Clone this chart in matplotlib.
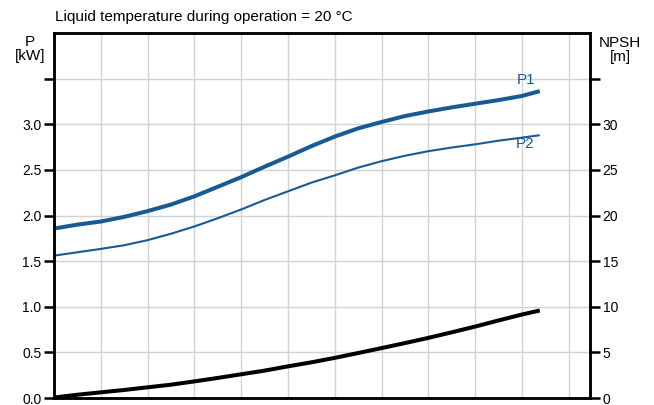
import numpy as np
import matplotlib.pyplot as plt

plt.rcParams['font.family'] = ['Liberation Sans', 'DejaVu Sans']

# flow in grid units (one vertical grid line per unit)
q = [0, 0.5, 1, 1.5, 2, 2.5, 3, 3.5, 4, 4.5, 5, 5.5, 6, 6.5, 7, 7.5, 8, 8.5,
     9, 9.5, 10, 10.38]
p1 = [1.857, 1.90, 1.934, 1.985, 2.048, 2.12, 2.21, 2.315, 2.42, 2.535, 2.645,
      2.76, 2.865, 2.955, 3.025, 3.09, 3.14, 3.185, 3.225, 3.265, 3.31, 3.363]
p2 = [1.56, 1.597, 1.634, 1.674, 1.73, 1.80, 1.88, 1.97, 2.066, 2.17, 2.265,
      2.36, 2.44, 2.525, 2.595, 2.655, 2.705, 2.745, 2.78, 2.82, 2.853, 2.88]
npsh = [0.05, 0.36, 0.62, 0.88, 1.17, 1.46, 1.82, 2.2, 2.6, 3.0, 3.47, 3.91,
        4.4, 4.93, 5.47, 6.02, 6.59, 7.2, 7.83, 8.5, 9.15, 9.59]

p_ticks = [0.0, 0.5, 1.0, 1.5, 2.0, 2.5, 3.0, 3.5]
p_labels = ['0.0', '0.5', '1.0', '1.5', '2.0', '2.5', '3.0', '']
n_ticks = [0, 5, 10, 15, 20, 25, 30, 35]
n_labels = ['0', '5', '10', '15', '20', '25', '30', '']

blue = '#175a94'

fig = plt.figure(figsize=(6.54, 4.05), dpi=100)
ax = fig.add_axes([54 / 654, 7 / 405, 536 / 654, 365 / 405])
ax2 = ax.twinx()

ax.set_xlim(0, 536 / 46.8)
ax.set_ylim(0, 4.0)
ax2.set_ylim(0, 40)

ax.set_xticks(np.arange(1, 12))
ax.set_xticklabels([])
ax.tick_params(axis='x', length=0)
ax.set_yticks(p_ticks)
ax.set_yticklabels(p_labels, fontsize=10)
ax.tick_params(axis='y', length=7, width=1.8, pad=2)
ax2.set_yticks(n_ticks)
ax2.set_yticklabels(n_labels, fontsize=10)
ax2.tick_params(axis='y', length=7, width=1.8, pad=2)

ax.grid(True, color='#cfd2d6', lw=1.0)
ax.set_axisbelow(True)
for a in (ax, ax2):
    for s in a.spines.values():
        s.set_linewidth(1.8)
        s.set_color('black')

ax.plot(q, p1, color=blue, lw=2.9, solid_capstyle='butt', solid_joinstyle='round')
ax.plot(q, p2, color=blue, lw=1.5, solid_capstyle='butt', solid_joinstyle='round')
ax2.plot(q, npsh, color='black', lw=2.9, solid_capstyle='butt', solid_joinstyle='round')

ax.text(10.09, 3.48, 'P1', color=blue, fontsize=11, ha='center', va='center')
ax.text(10.07, 2.78, 'P2', color=blue, fontsize=11, ha='center', va='center')

fig.text(55 / 654, 1 - 17 / 405, 'Liquid temperature during operation = 20 °C',
         fontsize=11, ha='left', va='center')
fig.text(30 / 654, 1 - 49 / 405, 'P\n[kW]', fontsize=11, ha='center', va='center',
         linespacing=1.0)
fig.text(620 / 654, 1 - 50 / 405, 'NPSH\n[m]', fontsize=11, ha='center', va='center',
         linespacing=1.0)

fig.savefig('out.png', dpi=100)
